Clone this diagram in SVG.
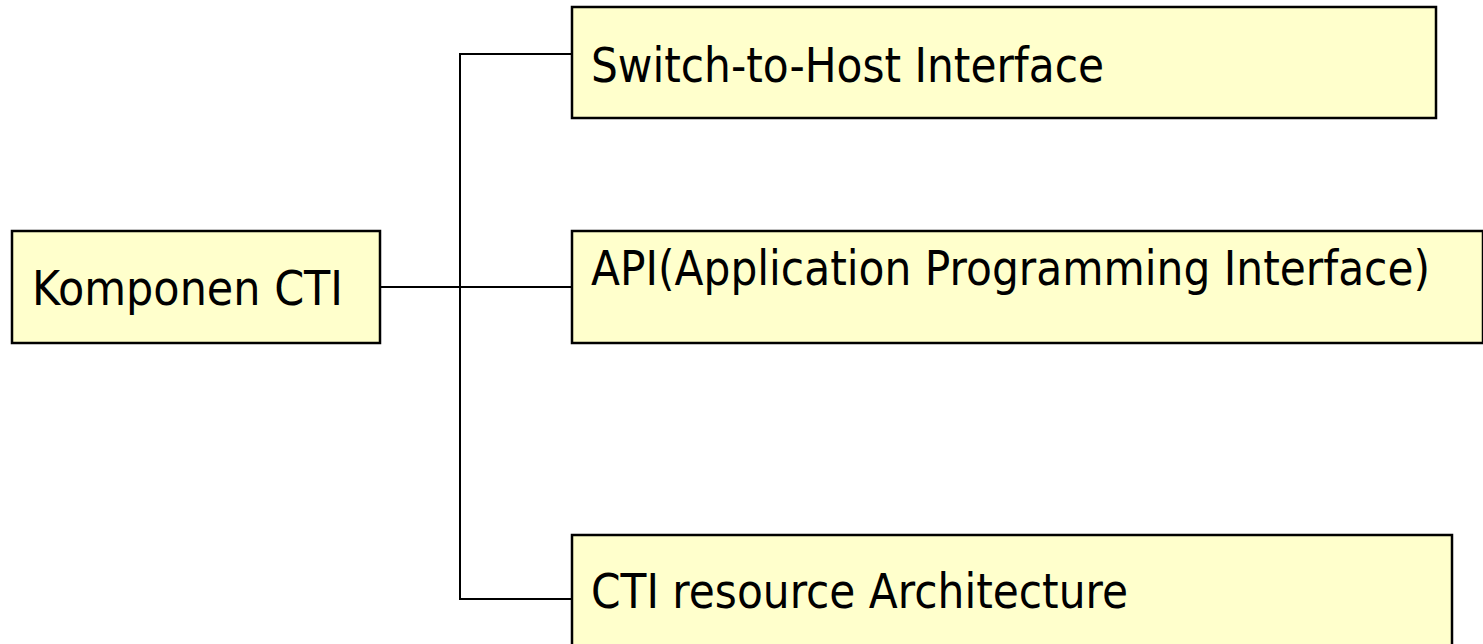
<svg xmlns="http://www.w3.org/2000/svg" width="1483" height="644" viewBox="0 0 1483 644">
  <style>
    .box { fill: #FFFFCC; stroke: #000; stroke-width: 2.5; }
    .lbl { font-family: "DejaVu Sans", Verdana, sans-serif; font-size: 48px; fill: #000; }
    .wire { fill: none; stroke: #000; stroke-width: 2; }
  </style>
  <rect width="1483" height="644" fill="#fff"/>

  <!-- tree connectors -->
  <g id="connectors">
    <path class="wire" d="M380 287 H572"/>
    <path class="wire" d="M572 54 H460 V599 H572"/>
  </g>

  <g id="root">
    <rect class="box" x="12" y="231" width="368" height="112"/>
    <text class="lbl" x="32" y="305" textLength="311" lengthAdjust="spacingAndGlyphs">Komponen CTI</text>
  </g>

  <g id="switch-host">
    <rect class="box" x="572" y="7" width="864" height="111"/>
    <text class="lbl" x="591" y="82" textLength="513" lengthAdjust="spacingAndGlyphs">Switch-to-Host Interface</text>
  </g>

  <g id="api">
    <rect class="box" x="572" y="231" width="911" height="112"/>
    <text class="lbl" x="591" y="285" textLength="839" lengthAdjust="spacingAndGlyphs">API(Application Programming Interface)</text>
  </g>

  <g id="resource-arch">
    <rect class="box" x="572" y="535" width="880" height="120"/>
    <text class="lbl" x="591" y="608" textLength="537" lengthAdjust="spacingAndGlyphs">CTI resource Architecture</text>
  </g>
</svg>
